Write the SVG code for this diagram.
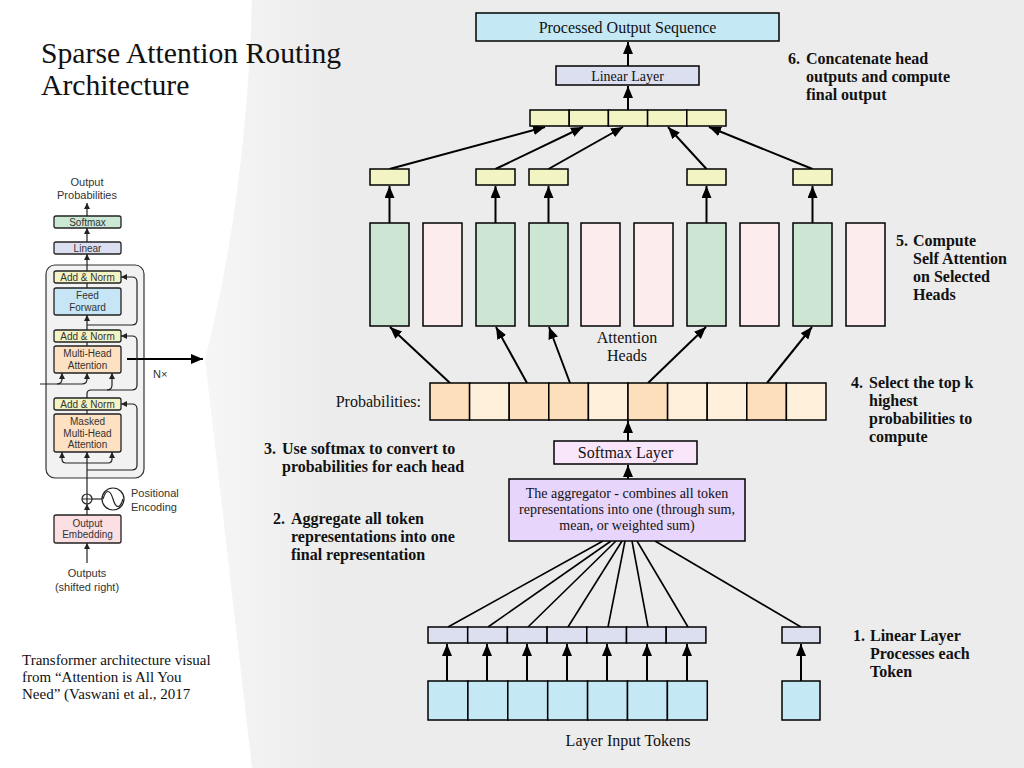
<svg xmlns="http://www.w3.org/2000/svg" width="1024" height="768" viewBox="0 0 1024 768">
<style>
.serif{font-family:"Liberation Serif","Times New Roman",serif;fill:#111}
.step{font-family:"Liberation Serif","Times New Roman",serif;font-weight:bold;font-size:16px;fill:#111}
.sans{font-family:"Liberation Sans",Arial,sans-serif;fill:#333}
.bt{font-size:10px}
.box{stroke:#000;stroke-width:1.5}
.conn{stroke:#000;stroke-width:2;fill:none}
.thin{stroke:#000;stroke-width:1.6;fill:none}
.lbox{stroke:#222;stroke-width:1.3}
.lconn{stroke:#222;stroke-width:1.2;fill:none}
.yel{fill:#f2f4c4}
.grn{fill:#cde6d3}
.pnk{fill:#fdeced}
.pd{fill:#fde0bb}
.pl{fill:#fff0dc}
.tok{fill:#c5e8f5}
.lin{fill:#dcdff0}
</style>
<defs>
<marker id="ah" markerUnits="userSpaceOnUse" markerWidth="12" markerHeight="10" refX="12" refY="5" orient="auto"><path d="M0,0 L12,5 L0,10 z" fill="#000"/></marker>
<marker id="sa" markerUnits="userSpaceOnUse" markerWidth="6" markerHeight="6" refX="6" refY="3" orient="auto"><path d="M0,0 L6,3 L0,6 z" fill="#222"/></marker>
<linearGradient id="bg" gradientUnits="userSpaceOnUse" x1="205" y1="0" x2="330" y2="0"><stop offset="0" stop-color="#f6f6f6"/><stop offset="1" stop-color="#ececec"/></linearGradient>
</defs>
<rect width="1024" height="768" fill="#fff"/>
<path d="M252,0 Q246,200 205,359 L252,768 L1024,768 L1024,0 Z" fill="url(#bg)"/>

<text class="serif" x="41" y="63" font-size="29.7">Sparse Attention Routing</text>
<text class="serif" x="41" y="95" font-size="29.7">Architecture</text>

<g id="transformer-figure">
<text class="sans" font-size="11" text-anchor="middle" x="87" y="186">Output</text>
<text class="sans" font-size="11" text-anchor="middle" x="87" y="199">Probabilities</text>
<rect x="46" y="265" width="98" height="213" rx="9" fill="#f2f2f2" stroke="#333" stroke-width="1.2"/>
<line class="lconn" x1="87" y1="216" x2="87" y2="203" marker-end="url(#sa)"/>
<rect class="lbox" x="54" y="216" width="67" height="12" rx="2" fill="#cbe8d4"/>
<text class="sans bt" text-anchor="middle" x="87.5" y="225.8">Softmax</text>
<line class="lconn" x1="87" y1="242" x2="87" y2="228" marker-end="url(#sa)"/>
<rect class="lbox" x="54" y="242" width="67" height="12" rx="2" fill="#dcdff2"/>
<text class="sans bt" text-anchor="middle" x="87.5" y="251.8">Linear</text>
<line class="lconn" x1="87" y1="271" x2="87" y2="254" marker-end="url(#sa)"/>
<rect class="lbox" x="54" y="271" width="67" height="12" rx="2" fill="#f3f4c6"/>
<text class="sans bt" text-anchor="middle" x="87.5" y="280.8">Add &amp; Norm</text>
<line class="lconn" x1="87" y1="288" x2="87" y2="283"/>
<rect class="lbox" x="54" y="288" width="67" height="27" rx="2" fill="#c6e6f6"/>
<text class="sans bt" text-anchor="middle" x="87.5" y="299">Feed</text>
<text class="sans bt" text-anchor="middle" x="87.5" y="310.5">Forward</text>
<line class="lconn" x1="87" y1="330" x2="87" y2="315" marker-end="url(#sa)"/>
<path class="lconn" d="M87,325 H132 Q137,325 137,320 V282 Q137,277 132,277 H121" marker-end="url(#sa)"/>
<rect class="lbox" x="54" y="330" width="67" height="12" rx="2" fill="#f3f4c6"/>
<text class="sans bt" text-anchor="middle" x="87.5" y="339.8">Add &amp; Norm</text>
<line class="lconn" x1="87" y1="346" x2="87" y2="342"/>
<rect class="lbox" x="54" y="346" width="67" height="27" rx="2" fill="#fde1c2"/>
<text class="sans bt" text-anchor="middle" x="87.5" y="357">Multi-Head</text>
<text class="sans bt" text-anchor="middle" x="87.5" y="368.5">Attention</text>
<line x1="127" y1="359" x2="203" y2="359" stroke="#000" stroke-width="2" marker-end="url(#ah)"/>
<text class="sans" font-size="11" x="153" y="378">N×</text>
<path class="lconn" d="M40,384 H57 Q62,384 62,379 V373" marker-end="url(#sa)"/>
<path class="lconn" d="M57,384 H82 Q87,384 87,379 V373" marker-end="url(#sa)"/>
<path class="lconn" d="M87,398 V394 Q87,390 91,390 H107 Q112,390 112,385 V373" marker-end="url(#sa)"/>
<path class="lconn" d="M107,390 H132 Q137,390 137,385 V341 Q137,336 132,336 H121" marker-end="url(#sa)"/>
<rect class="lbox" x="54" y="398" width="67" height="12" rx="2" fill="#f3f4c6"/>
<text class="sans bt" text-anchor="middle" x="87.5" y="407.8">Add &amp; Norm</text>
<line class="lconn" x1="87" y1="414" x2="87" y2="410"/>
<rect class="lbox" x="54" y="414" width="67" height="38" rx="2" fill="#fde1c2"/>
<text class="sans bt" text-anchor="middle" x="87.5" y="425">Masked</text>
<text class="sans bt" text-anchor="middle" x="87.5" y="436.5">Multi-Head</text>
<text class="sans bt" text-anchor="middle" x="87.5" y="448">Attention</text>
<line class="lconn" x1="87" y1="494" x2="87" y2="452" marker-end="url(#sa)"/>
<path class="lconn" d="M87,463 H66 Q62,463 62,459 V452" marker-end="url(#sa)"/>
<path class="lconn" d="M87,463 H108 Q112,463 112,459 V452" marker-end="url(#sa)"/>
<path class="lconn" d="M87,470 H132 Q137,470 137,465 V409 Q137,404 132,404 H121" marker-end="url(#sa)"/>
<circle cx="87" cy="499" r="5" fill="#fff" stroke="#222" stroke-width="1.2"/>
<path class="lconn" d="M82,499 H92 M87,494 V504"/>
<line class="lconn" x1="92" y1="499" x2="102" y2="499"/>
<circle cx="113" cy="499" r="11" fill="#fff" stroke="#222" stroke-width="1.2"/>
<path class="lconn" d="M103,499 C106,489 110,489 113,499 C116,509 120,509 123,499"/>
<text class="sans" font-size="11" x="131" y="497">Positional</text>
<text class="sans" font-size="11" x="131" y="511">Encoding</text>
<line class="lconn" x1="87" y1="515" x2="87" y2="504" marker-end="url(#sa)"/>
<rect class="lbox" x="54" y="515" width="67" height="28" rx="2" fill="#fbdfe3"/>
<text class="sans bt" text-anchor="middle" x="87.5" y="526.5">Output</text>
<text class="sans bt" text-anchor="middle" x="87.5" y="538">Embedding</text>
<line class="lconn" x1="87" y1="563" x2="87" y2="543" marker-end="url(#sa)"/>
<text class="sans" font-size="11" text-anchor="middle" x="87" y="577">Outputs</text>
<text class="sans" font-size="11" text-anchor="middle" x="87" y="591">(shifted right)</text>
</g>

<text class="serif" font-size="15" x="22" y="665">Transformer architecture visual</text>
<text class="serif" font-size="15" x="22" y="682">from “Attention is All You</text>
<text class="serif" font-size="15" x="22" y="699">Need” (Vaswani et al., 2017</text>

<g id="connectors">
<line class="conn" x1="628" y1="66" x2="628" y2="42" marker-end="url(#ah)"/>
<line class="conn" x1="628" y1="110" x2="628" y2="86" marker-end="url(#ah)"/>
<line class="conn" x1="389.5" y1="169" x2="545" y2="127" marker-end="url(#ah)"/>
<line class="conn" x1="495.5" y1="169" x2="583" y2="127" marker-end="url(#ah)"/>
<line class="conn" x1="548.5" y1="169" x2="623" y2="127" marker-end="url(#ah)"/>
<line class="conn" x1="706.5" y1="169" x2="668" y2="127" marker-end="url(#ah)"/>
<line class="conn" x1="812.5" y1="169" x2="709" y2="127" marker-end="url(#ah)"/>
<line class="conn" x1="389.5" y1="223" x2="389.5" y2="186" marker-end="url(#ah)"/>
<line class="conn" x1="495.5" y1="223" x2="495.5" y2="186" marker-end="url(#ah)"/>
<line class="conn" x1="548.5" y1="223" x2="548.5" y2="186" marker-end="url(#ah)"/>
<line class="conn" x1="706.5" y1="223" x2="706.5" y2="186" marker-end="url(#ah)"/>
<line class="conn" x1="812.5" y1="223" x2="812.5" y2="186" marker-end="url(#ah)"/>
<line class="conn" x1="450" y1="383" x2="390" y2="327" marker-end="url(#ah)"/>
<line class="conn" x1="527" y1="383" x2="496" y2="327" marker-end="url(#ah)"/>
<line class="conn" x1="570" y1="383" x2="549" y2="327" marker-end="url(#ah)"/>
<line class="conn" x1="648" y1="383" x2="706" y2="327" marker-end="url(#ah)"/>
<line class="conn" x1="767" y1="383" x2="812" y2="327" marker-end="url(#ah)"/>
<line class="conn" x1="628" y1="441" x2="628" y2="421" marker-end="url(#ah)"/>
<line class="conn" x1="628" y1="479" x2="628" y2="465" marker-end="url(#ah)"/>
<line class="thin" x1="448" y1="627" x2="603" y2="541"/>
<line class="thin" x1="488" y1="627" x2="611" y2="541"/>
<line class="thin" x1="528" y1="627" x2="616" y2="541"/>
<line class="thin" x1="568" y1="627" x2="622" y2="541"/>
<line class="thin" x1="608" y1="627" x2="625" y2="541"/>
<line class="thin" x1="648" y1="627" x2="632" y2="541"/>
<line class="thin" x1="688" y1="627" x2="637" y2="541"/>
<line class="thin" x1="801" y1="627" x2="655" y2="541"/>
<line class="conn" x1="447" y1="681" x2="447" y2="644" marker-end="url(#ah)"/>
<line class="conn" x1="487" y1="681" x2="487" y2="644" marker-end="url(#ah)"/>
<line class="conn" x1="527" y1="681" x2="527" y2="644" marker-end="url(#ah)"/>
<line class="conn" x1="567" y1="681" x2="567" y2="644" marker-end="url(#ah)"/>
<line class="conn" x1="607" y1="681" x2="607" y2="644" marker-end="url(#ah)"/>
<line class="conn" x1="647" y1="681" x2="647" y2="644" marker-end="url(#ah)"/>
<line class="conn" x1="687" y1="681" x2="687" y2="644" marker-end="url(#ah)"/>
<line class="conn" x1="801" y1="681" x2="801" y2="644" marker-end="url(#ah)"/>
</g>

<g id="output-sequence">
<rect class="box tok" x="476" y="13" width="303" height="28"/>
<text class="serif" font-size="16" text-anchor="middle" x="627.5" y="33">Processed Output Sequence</text>
</g>
<g id="final-linear">
<rect class="box lin" x="556" y="66" width="143" height="19"/>
<text class="serif" font-size="14" text-anchor="middle" x="627.5" y="80.5">Linear Layer</text>
</g>
<g id="concat">
<rect class="box yel" x="530" y="110" width="39.2" height="16"/>
<rect class="box yel" x="569.2" y="110" width="39.2" height="16"/>
<rect class="box yel" x="608.4" y="110" width="39.2" height="16"/>
<rect class="box yel" x="647.6" y="110" width="39.2" height="16"/>
<rect class="box yel" x="686.8" y="110" width="39.2" height="16"/>
</g>
<g id="head-outputs">
<rect class="box yel" x="370" y="169" width="39" height="16"/>
<rect class="box yel" x="476" y="169" width="39" height="16"/>
<rect class="box yel" x="529" y="169" width="39" height="16"/>
<rect class="box yel" x="687" y="169" width="39" height="16"/>
<rect class="box yel" x="793" y="169" width="39" height="16"/>
</g>
<g id="attention-heads">
<rect class="box grn" x="370" y="223" width="39" height="103"/>
<rect class="box pnk" x="423" y="223" width="39" height="103"/>
<rect class="box grn" x="476" y="223" width="39" height="103"/>
<rect class="box grn" x="529" y="223" width="39" height="103"/>
<rect class="box pnk" x="581" y="223" width="39" height="103"/>
<rect class="box pnk" x="634" y="223" width="39" height="103"/>
<rect class="box grn" x="687" y="223" width="39" height="103"/>
<rect class="box pnk" x="740" y="223" width="39" height="103"/>
<rect class="box grn" x="793" y="223" width="39" height="103"/>
<rect class="box pnk" x="846" y="223" width="39" height="103"/>
<text class="serif" font-size="16" text-anchor="middle" x="627" y="343">Attention</text>
<text class="serif" font-size="16" text-anchor="middle" x="627" y="361">Heads</text>
</g>
<g id="probabilities">
<text class="serif" font-size="16" text-anchor="end" x="421" y="407">Probabilities:</text>
<rect class="box pd" x="430" y="383" width="39.6" height="37"/>
<rect class="box pl" x="469.6" y="383" width="39.6" height="37"/>
<rect class="box pd" x="509.2" y="383" width="39.6" height="37"/>
<rect class="box pd" x="548.8" y="383" width="39.6" height="37"/>
<rect class="box pl" x="588.4" y="383" width="39.6" height="37"/>
<rect class="box pd" x="628" y="383" width="39.6" height="37"/>
<rect class="box pl" x="667.6" y="383" width="39.6" height="37"/>
<rect class="box pl" x="707.2" y="383" width="39.6" height="37"/>
<rect class="box pd" x="746.8" y="383" width="39.6" height="37"/>
<rect class="box pl" x="786.4" y="383" width="39.6" height="37"/>
</g>
<g id="softmax">
<rect class="box" x="554" y="441" width="143" height="23" fill="#fae6fa"/>
<text class="serif" font-size="16" text-anchor="middle" x="625.5" y="458">Softmax Layer</text>
</g>
<g id="aggregator">
<rect class="box" x="509" y="479" width="236" height="62" fill="#e8d5fb"/>
<text class="serif" font-size="14" text-anchor="middle" x="627" y="498">The aggregator - combines all token</text>
<text class="serif" font-size="14" text-anchor="middle" x="627" y="514">representations into one (through sum,</text>
<text class="serif" font-size="14" text-anchor="middle" x="627" y="530">mean, or weighted sum)</text>
</g>
<g id="token-linear">
<rect class="box lin" x="428" y="627" width="39.7" height="16"/>
<rect class="box lin" x="467.7" y="627" width="39.7" height="16"/>
<rect class="box lin" x="507.4" y="627" width="39.7" height="16"/>
<rect class="box lin" x="547.1" y="627" width="39.7" height="16"/>
<rect class="box lin" x="586.8" y="627" width="39.7" height="16"/>
<rect class="box lin" x="626.5" y="627" width="39.7" height="16"/>
<rect class="box lin" x="666.2" y="627" width="39.7" height="16"/>
<rect class="box lin" x="782" y="627" width="38" height="16"/>
</g>
<g id="input-tokens">
<rect class="box tok" x="428" y="681" width="39.9" height="39"/>
<rect class="box tok" x="467.9" y="681" width="39.9" height="39"/>
<rect class="box tok" x="507.8" y="681" width="39.9" height="39"/>
<rect class="box tok" x="547.7" y="681" width="39.9" height="39"/>
<rect class="box tok" x="587.6" y="681" width="39.9" height="39"/>
<rect class="box tok" x="627.5" y="681" width="39.9" height="39"/>
<rect class="box tok" x="667.4" y="681" width="39.9" height="39"/>
<rect class="box tok" x="782" y="681" width="38" height="39"/>
<text class="serif" font-size="16" text-anchor="middle" x="628" y="746">Layer Input Tokens</text>
</g>

<g id="steps">
<text class="step" x="788" y="64">6.</text>
<text class="step" x="806" y="64">Concatenate head</text>
<text class="step" x="806" y="82">outputs and compute</text>
<text class="step" x="806" y="100">final output</text>
<text class="step" x="896" y="246">5.</text>
<text class="step" x="913" y="246">Compute</text>
<text class="step" x="913" y="264">Self Attention</text>
<text class="step" x="913" y="282">on Selected</text>
<text class="step" x="913" y="300">Heads</text>
<text class="step" x="851" y="388">4.</text>
<text class="step" x="869" y="388">Select the top k</text>
<text class="step" x="869" y="406">highest</text>
<text class="step" x="869" y="424">probabilities to</text>
<text class="step" x="869" y="442">compute</text>
<text class="step" x="264" y="454">3.</text>
<text class="step" x="282" y="454">Use softmax to convert to</text>
<text class="step" x="282" y="472">probabilities for each head</text>
<text class="step" x="273" y="524">2.</text>
<text class="step" x="291" y="524">Aggregate all token</text>
<text class="step" x="291" y="542">representations into one</text>
<text class="step" x="291" y="560">final representation</text>
<text class="step" x="853" y="641">1.</text>
<text class="step" x="870" y="641">Linear Layer</text>
<text class="step" x="870" y="659">Processes each</text>
<text class="step" x="870" y="677">Token</text>
</g>
</svg>
